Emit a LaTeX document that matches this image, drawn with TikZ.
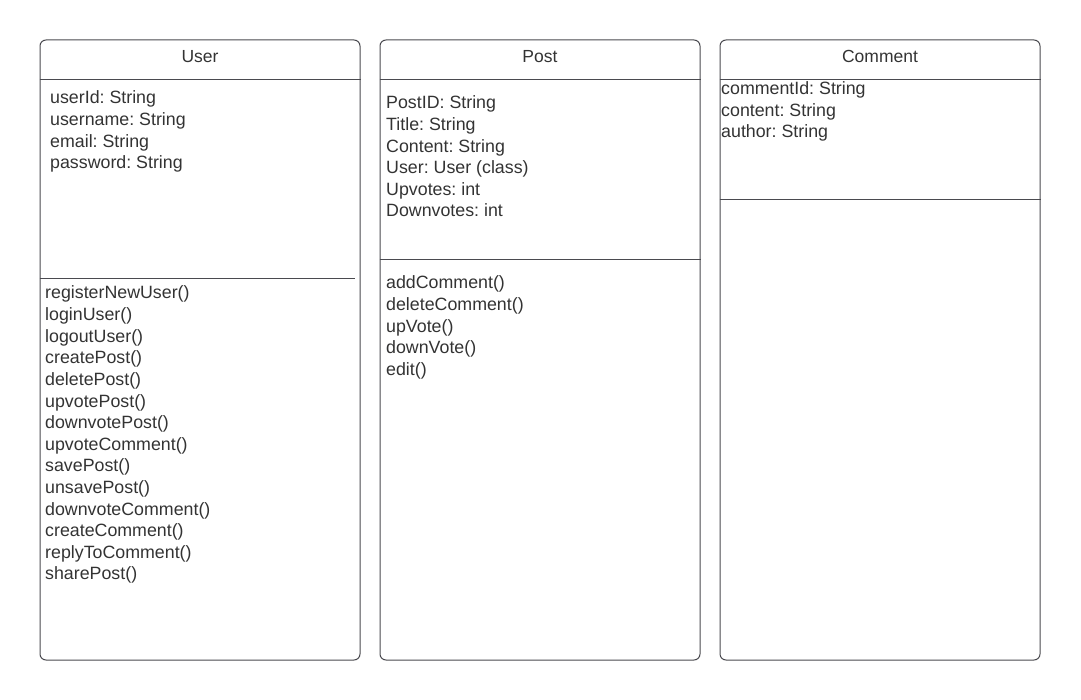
\documentclass[tikz,border=0pt]{standalone}
\usepackage{fontspec}
\setmainfont{Liberation Sans}
\frenchspacing
\definecolor{linegray}{HTML}{4A4A4F}
\definecolor{textgray}{HTML}{333333}
\begin{document}
\begin{tikzpicture}[x=1pt, y=-1pt,
  classbox/.style={draw=linegray, line width=1pt, rounded corners=6pt, minimum width=320pt, minimum height=620pt, inner sep=0pt},
  classname/.style={anchor=base, inner sep=0pt, text=textgray, font=\fontsize{17.5}{20}\selectfont},
  member/.style={anchor=base west, inner sep=0pt, text=textgray, font=\fontsize{17.8}{20}\selectfont},
  sepline/.style={draw=linegray, line width=1pt}]
\useasboundingbox (0,0) rectangle (1081,700);
% class boxes
\node[classbox] (user) at (200,350) {};
\node[classbox] (post) at (540,350) {};
\node[classbox] (comment) at (880,350) {};
% class names
\node[classname] (usertitle) at (200,63) {User};
\node[classname] (posttitle) at (540,63) {Post};
\node[classname] (commenttitle) at (880,63) {Comment};
% compartments
\draw[sepline] (user.west |- 0,80) -- (user.east |- 0,80);
\draw[sepline] (post.west |- 0,80) -- (post.east |- 0,80);
\draw[sepline] (comment.west |- 0,80) -- (comment.east |- 0,80);
\draw[sepline] (user.west |- 0,279) -- (355,279);
\draw[sepline] (post.west |- 0,260) -- (post.east |- 0,260);
\draw[sepline] (comment.west |- 0,200) -- (comment.east |- 0,200);
% User
\foreach \a [count=\i] in {userId: String, username: String, email: String, password: String}
  \node[member] (ua\i) at (50,104+21.6*\i-21.6) {\a};
\foreach \m [count=\i] in {registerNewUser(), loginUser(), logoutUser(), createPost(), deletePost(), upvotePost(), downvotePost(), upvoteComment(), savePost(), unsavePost(), downvoteComment(), createComment(), replyToComment(), sharePost()}
  \node[member] (um\i) at (45,299+21.6*\i-21.6) {\m};
% Post
\foreach \a [count=\i] in {PostID: String, Title: String, Content: String, User: User (class), Upvotes: int, Downvotes: int}
  \node[member] (pa\i) at (386,109+21.6*\i-21.6) {\a};
\foreach \m [count=\i] in {addComment(), deleteComment(), upVote(), downVote(), edit()}
  \node[member] (pm\i) at (386,289+21.6*\i-21.6) {\m};
% Comment
\foreach \a [count=\i] in {commentId: String, content: String, author: String}
  \node[member] (ca\i) at (721,94.5+21.6*\i-21.6) {\a};
\end{tikzpicture}
\end{document}
